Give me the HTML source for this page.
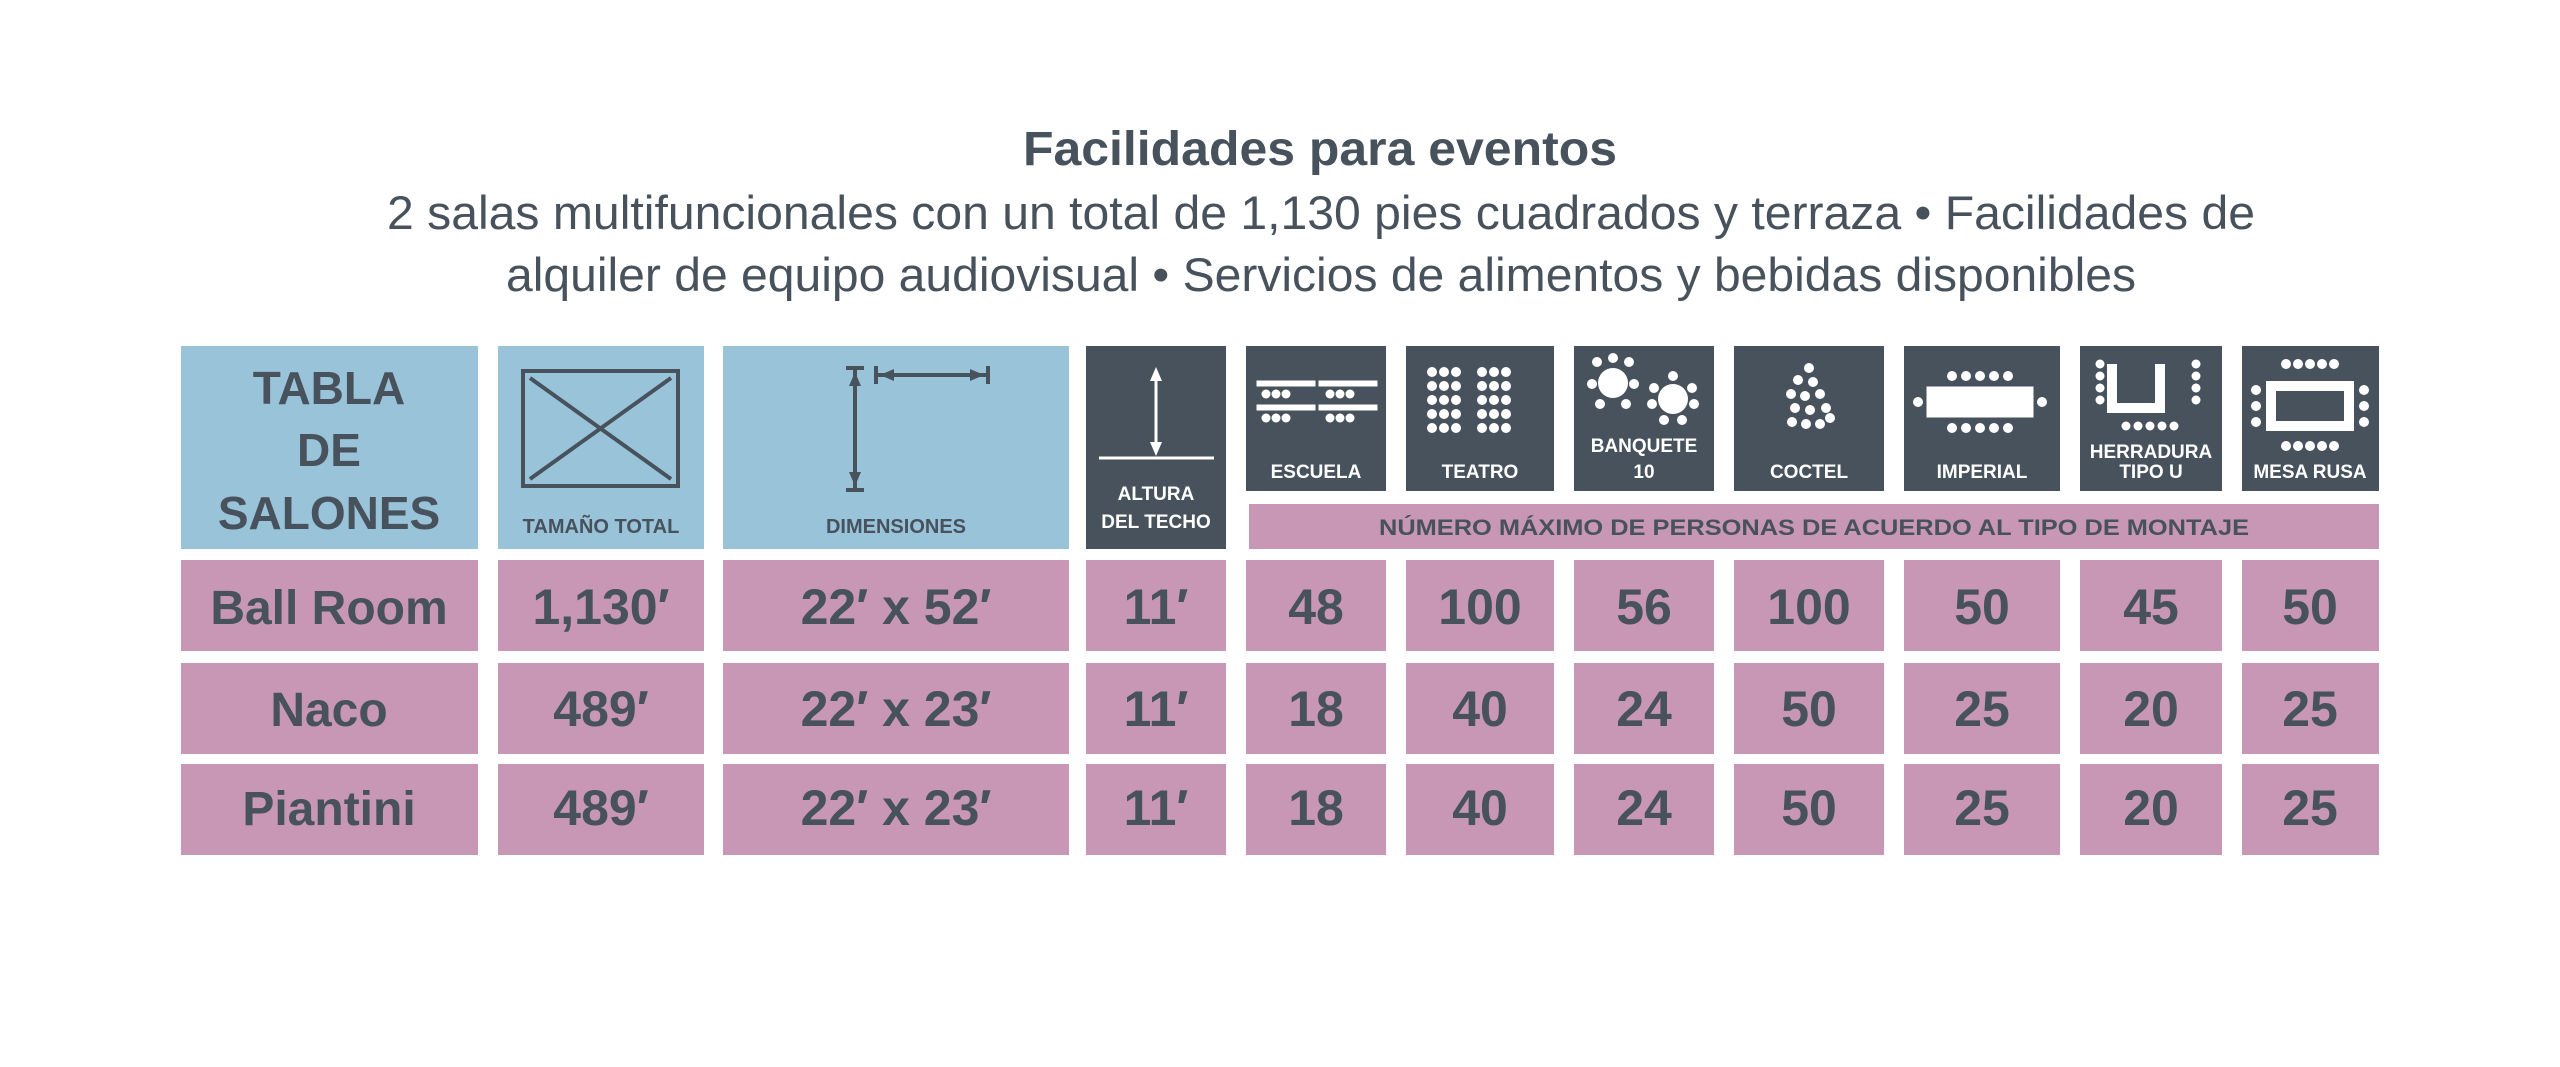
<!DOCTYPE html>
<html><head><meta charset="utf-8"><style>html,body{margin:0;padding:0;background:#fff}svg{display:block}</style></head>
<body>
<svg width="2560" height="1067" viewBox="0 0 2560 1067" xmlns="http://www.w3.org/2000/svg" font-family="Liberation Sans, sans-serif">
<g fill="#47525d" text-anchor="middle">
<text x="1320" y="165" font-size="48" font-weight="bold" textLength="594" lengthAdjust="spacingAndGlyphs">Facilidades para eventos</text>
<text x="1321" y="229" font-size="47" textLength="1868" lengthAdjust="spacingAndGlyphs">2 salas multifuncionales con un total de 1,130 pies cuadrados y terraza • Facilidades de</text>
<text x="1321" y="291" font-size="47" textLength="1630" lengthAdjust="spacingAndGlyphs">alquiler de equipo audiovisual • Servicios de alimentos y bebidas disponibles</text>
</g>
<g fill="#98c3d8">
<rect x="181" y="346" width="297" height="203"/>
<rect x="498" y="346" width="206" height="203"/>
<rect x="723" y="346" width="346" height="203"/>
</g>
<rect x="1086" y="346" width="140" height="203" fill="#47525d"/>
<g fill="#47525d">
<rect x="1246" y="346" width="140" height="145"/>
<rect x="1406" y="346" width="148" height="145"/>
<rect x="1574" y="346" width="140" height="145"/>
<rect x="1734" y="346" width="150" height="145"/>
<rect x="1904" y="346" width="156" height="145"/>
<rect x="2080" y="346" width="142" height="145"/>
<rect x="2242" y="346" width="137" height="145"/>
</g>
<rect x="1249" y="504" width="1130" height="45" fill="#c897b5"/>
<g fill="#47525d" font-weight="bold" text-anchor="middle">
<text x="329" y="404" font-size="46">TABLA</text>
<text x="329" y="466" font-size="46">DE</text>
<text x="329" y="529" font-size="46">SALONES</text>
<text x="601" y="533" font-size="20">TAMAÑO TOTAL</text>
<text x="896" y="533" font-size="20">DIMENSIONES</text>
<text x="1814" y="535" font-size="22" textLength="870" lengthAdjust="spacingAndGlyphs">NÚMERO MÁXIMO DE PERSONAS DE ACUERDO AL TIPO DE MONTAJE</text>
</g>
<g fill="#fff" font-weight="bold" text-anchor="middle" font-size="19">
<text x="1156" y="500">ALTURA</text>
<text x="1156" y="528">DEL TECHO</text>
<text x="1316" y="478">ESCUELA</text>
<text x="1480" y="478">TEATRO</text>
<text x="1644" y="452">BANQUETE</text>
<text x="1644" y="478">10</text>
<text x="1809" y="478">COCTEL</text>
<text x="1982" y="478">IMPERIAL</text>
<text x="2151" y="458">HERRADURA</text>
<text x="2151" y="478">TIPO U</text>
<text x="2310" y="478">MESA RUSA</text>
</g>
<g stroke="#47525d" stroke-width="4" fill="none">
<rect x="523" y="371" width="155" height="115"/>
<line x1="530" y1="378" x2="671" y2="479"/><line x1="671" y1="378" x2="530" y2="479"/>
<line x1="855" y1="368" x2="855" y2="490"/><line x1="846" y1="368" x2="864" y2="368"/><line x1="846" y1="490" x2="864" y2="490"/>
<line x1="876" y1="375" x2="988" y2="375"/><line x1="876" y1="366" x2="876" y2="384"/><line x1="988" y1="366" x2="988" y2="384"/>
</g>
<g fill="#47525d">
<path d="M855 372 l-6 14 h12z M855 486 l-6 -14 h12z M880 375 l14 -6 v12z M984 375 l-14 -6 v12z"/>
</g>
<g stroke="#fff" stroke-width="3" fill="#fff">
<line x1="1156" y1="372" x2="1156" y2="452"/>
<line x1="1099" y1="458" x2="1214" y2="458"/>
<rect x="1258" y="382" width="56" height="3"/><rect x="1320" y="382" width="56" height="3"/>
<rect x="1258" y="406" width="56" height="3"/><rect x="1320" y="406" width="56" height="3"/>
<rect x="1928" y="388" width="104" height="28"/>
<path d="M2112 364 V408 H2160 V364" fill="none" stroke-width="10"/>
<rect x="2271" y="386" width="78" height="40" fill="none" stroke-width="10"/>
</g>
<g fill="#fff"><path d="M1156 367 l-6 14 h12z M1156 456 l-6 -14 h12z"/></g>
<g fill="#fff">
<circle cx="1613" cy="383" r="15"/><circle cx="1673" cy="399" r="15"/>
</g>
<g fill="#fff">
<circle cx="1266" cy="394" r="4.5"/><circle cx="1276" cy="394" r="4.5"/><circle cx="1286" cy="394" r="4.5"/><circle cx="1330" cy="394" r="4.5"/><circle cx="1340" cy="394" r="4.5"/><circle cx="1350" cy="394" r="4.5"/>
<circle cx="1266" cy="418" r="4.5"/><circle cx="1276" cy="418" r="4.5"/><circle cx="1286" cy="418" r="4.5"/><circle cx="1330" cy="418" r="4.5"/><circle cx="1340" cy="418" r="4.5"/><circle cx="1350" cy="418" r="4.5"/>
</g>
<g fill="#fff">
<g id="tc"><circle cx="1432" cy="372" r="5"/><circle cx="1432" cy="386" r="5"/><circle cx="1432" cy="400" r="5"/><circle cx="1432" cy="414" r="5"/><circle cx="1432" cy="428" r="5"/></g>
<use href="#tc" x="12"/><use href="#tc" x="24"/><use href="#tc" x="50"/><use href="#tc" x="62"/><use href="#tc" x="74"/>
<circle cx="1597" cy="362" r="5"/><circle cx="1613" cy="358" r="5"/><circle cx="1629" cy="362" r="5"/><circle cx="1592" cy="384" r="5"/><circle cx="1634" cy="384" r="5"/><circle cx="1600" cy="404" r="5"/><circle cx="1626" cy="404" r="5"/>
<circle cx="1673" cy="376" r="5"/><circle cx="1654" cy="388" r="5"/><circle cx="1692" cy="388" r="5"/><circle cx="1652" cy="404" r="5"/><circle cx="1694" cy="404" r="5"/><circle cx="1664" cy="420" r="5"/><circle cx="1682" cy="420" r="5"/>
<circle cx="1809" cy="368" r="5"/><circle cx="1798" cy="380" r="5"/><circle cx="1813" cy="382" r="5"/><circle cx="1791" cy="394" r="5"/><circle cx="1805" cy="396" r="5"/><circle cx="1820" cy="394" r="5"/><circle cx="1795" cy="408" r="5"/><circle cx="1810" cy="410" r="5"/><circle cx="1826" cy="408" r="5"/><circle cx="1792" cy="422" r="5"/><circle cx="1806" cy="424" r="5"/><circle cx="1820" cy="424" r="5"/><circle cx="1830" cy="418" r="5"/>
<circle cx="1952" cy="376" r="5"/><circle cx="1966" cy="376" r="5"/><circle cx="1980" cy="376" r="5"/><circle cx="1994" cy="376" r="5"/><circle cx="2008" cy="376" r="5"/>
<circle cx="1952" cy="428" r="5"/><circle cx="1966" cy="428" r="5"/><circle cx="1980" cy="428" r="5"/><circle cx="1994" cy="428" r="5"/><circle cx="2008" cy="428" r="5"/>
<circle cx="1918" cy="402" r="5"/><circle cx="2042" cy="402" r="5"/>
<circle cx="2100" cy="364" r="4.5"/><circle cx="2100" cy="376" r="4.5"/><circle cx="2100" cy="388" r="4.5"/><circle cx="2100" cy="400" r="4.5"/>
<circle cx="2196" cy="364" r="4.5"/><circle cx="2196" cy="376" r="4.5"/><circle cx="2196" cy="388" r="4.5"/><circle cx="2196" cy="400" r="4.5"/>
<circle cx="2126" cy="426" r="4.5"/><circle cx="2138" cy="426" r="4.5"/><circle cx="2150" cy="426" r="4.5"/><circle cx="2162" cy="426" r="4.5"/><circle cx="2174" cy="426" r="4.5"/>
<circle cx="2286" cy="364" r="5"/><circle cx="2298" cy="364" r="5"/><circle cx="2310" cy="364" r="5"/><circle cx="2322" cy="364" r="5"/><circle cx="2334" cy="364" r="5"/>
<circle cx="2286" cy="446" r="5"/><circle cx="2298" cy="446" r="5"/><circle cx="2310" cy="446" r="5"/><circle cx="2322" cy="446" r="5"/><circle cx="2334" cy="446" r="5"/>
<circle cx="2256" cy="390" r="5"/><circle cx="2256" cy="406" r="5"/><circle cx="2256" cy="422" r="5"/>
<circle cx="2364" cy="390" r="5"/><circle cx="2364" cy="406" r="5"/><circle cx="2364" cy="422" r="5"/>
</g>
<g fill="#c897b5">
<g id="row">
<rect x="181" y="560" width="297" height="91"/><rect x="498" y="560" width="206" height="91"/><rect x="723" y="560" width="346" height="91"/><rect x="1086" y="560" width="140" height="91"/>
<rect x="1246" y="560" width="140" height="91"/><rect x="1406" y="560" width="148" height="91"/><rect x="1574" y="560" width="140" height="91"/><rect x="1734" y="560" width="150" height="91"/><rect x="1904" y="560" width="156" height="91"/><rect x="2080" y="560" width="142" height="91"/><rect x="2242" y="560" width="137" height="91"/>
</g>
<use href="#row" y="103"/><use href="#row" y="204"/>
</g>
<g fill="#47525d" font-weight="bold" text-anchor="middle" font-size="50">
<text x="329" y="624" font-size="48">Ball Room</text><text x="601" y="624">1,130′</text><text x="896" y="624">22′ x 52′</text><text x="1156" y="624">11′</text>
<text x="1316" y="624">48</text><text x="1480" y="624">100</text><text x="1644" y="624">56</text><text x="1809" y="624">100</text><text x="1982" y="624">50</text><text x="2151" y="624">45</text><text x="2310" y="624">50</text>
<text x="329" y="726" font-size="48">Naco</text><text x="601" y="726">489′</text><text x="896" y="726">22′ x 23′</text><text x="1156" y="726">11′</text>
<text x="1316" y="726">18</text><text x="1480" y="726">40</text><text x="1644" y="726">24</text><text x="1809" y="726">50</text><text x="1982" y="726">25</text><text x="2151" y="726">20</text><text x="2310" y="726">25</text>
<text x="329" y="825" font-size="48">Piantini</text><text x="601" y="825">489′</text><text x="896" y="825">22′ x 23′</text><text x="1156" y="825">11′</text>
<text x="1316" y="825">18</text><text x="1480" y="825">40</text><text x="1644" y="825">24</text><text x="1809" y="825">50</text><text x="1982" y="825">25</text><text x="2151" y="825">20</text><text x="2310" y="825">25</text>
</g>
</svg>
</body></html>
